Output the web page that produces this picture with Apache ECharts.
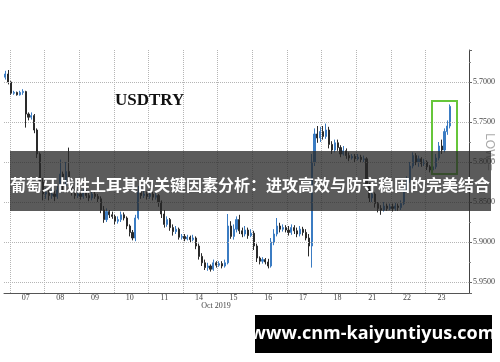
<!DOCTYPE html>
<html>
<head>
<meta charset="utf-8">
<script src="https://cdn.jsdelivr.net/npm/echarts@6/dist/echarts.min.js"></script>
<style>
html,body{margin:0;padding:0;background:#fff;}
#c{width:500px;height:362px;}
</style>
</head>
<body>
<div id="c"></div>
<script>
// ---- data ----
const days = ['04','07','08','09','10','11','14','15','16','17','18','21','22','23','24'];
const daySlots = [2,12,12,12,12,12,12,12,12,12,12,12,12,12,3];
const dayFirstHour = [20,0,0,0,0,0,0,0,0,0,0,0,0,0,0];
const labeledDays = ['07','08','09','10','11','14','15','16','17','18','21','22','23'];
const yTicks = [5.70,5.75,5.80,5.85,5.90,5.95];
const lastPrice = 5.7305;
// 2-hour bars: [open, close, low, high]
const ohlc = [
 [5.694,5.690,5.686,5.697],[5.690,5.700,5.685,5.703],
 // Oct 7
 [5.700,5.714,5.699,5.716],[5.714,5.713,5.711,5.716],[5.713,5.716,5.712,5.717],[5.716,5.713,5.711,5.717],
 [5.713,5.712,5.709,5.716],[5.712,5.740,5.711,5.757],[5.740,5.744,5.738,5.748],[5.744,5.742,5.738,5.747],
 [5.742,5.760,5.740,5.764],[5.760,5.790,5.758,5.795],[5.790,5.825,5.788,5.832],[5.825,5.840,5.820,5.848],
 // Oct 8
 [5.840,5.838,5.832,5.846],[5.838,5.842,5.835,5.848],[5.842,5.840,5.834,5.846],[5.840,5.843,5.836,5.849],
 [5.843,5.835,5.830,5.846],[5.835,5.815,5.797,5.838],[5.815,5.830,5.812,5.836],[5.830,5.812,5.800,5.834],
 [5.812,5.825,5.782,5.830],[5.825,5.838,5.822,5.842],[5.838,5.842,5.834,5.846],[5.842,5.840,5.836,5.845],
 // Oct 9
 [5.840,5.843,5.836,5.847],[5.843,5.838,5.834,5.846],[5.838,5.842,5.835,5.845],[5.842,5.845,5.838,5.849],
 [5.845,5.840,5.836,5.848],[5.840,5.843,5.837,5.846],[5.843,5.846,5.840,5.850],[5.846,5.860,5.843,5.864],
 [5.860,5.872,5.855,5.876],[5.872,5.862,5.858,5.875],[5.862,5.866,5.860,5.870],[5.866,5.868,5.862,5.871],
 // Oct 10
 [5.868,5.874,5.866,5.878],[5.874,5.872,5.868,5.877],[5.872,5.866,5.862,5.875],[5.866,5.870,5.863,5.873],
 [5.870,5.880,5.868,5.884],[5.880,5.888,5.878,5.893],[5.888,5.895,5.885,5.898],[5.895,5.870,5.866,5.899],
 [5.870,5.838,5.830,5.872],[5.838,5.842,5.834,5.846],[5.842,5.840,5.836,5.845],[5.840,5.843,5.837,5.847],
 // Oct 11
 [5.843,5.840,5.836,5.846],[5.840,5.844,5.837,5.848],[5.844,5.842,5.838,5.847],[5.842,5.850,5.840,5.856],
 [5.850,5.865,5.848,5.870],[5.865,5.878,5.860,5.882],[5.878,5.872,5.868,5.881],[5.872,5.882,5.870,5.886],
 [5.882,5.887,5.878,5.892],[5.887,5.884,5.880,5.890],[5.884,5.894,5.882,5.897],[5.894,5.893,5.890,5.897],
 // Oct 14
 [5.893,5.896,5.890,5.899],[5.896,5.894,5.891,5.898],[5.894,5.897,5.892,5.900],[5.897,5.895,5.891,5.899],
 [5.895,5.905,5.893,5.909],[5.905,5.918,5.902,5.922],[5.918,5.926,5.914,5.930],[5.926,5.932,5.922,5.935],
 [5.932,5.930,5.926,5.936],[5.930,5.934,5.928,5.937],[5.934,5.926,5.922,5.936],[5.926,5.929,5.924,5.932],
 // Oct 15
 [5.929,5.927,5.924,5.931],[5.927,5.930,5.924,5.933],[5.930,5.926,5.922,5.932],[5.926,5.880,5.865,5.928],
 [5.880,5.893,5.874,5.896],[5.893,5.884,5.878,5.897],[5.884,5.872,5.868,5.888],[5.872,5.886,5.866,5.890],
 [5.886,5.890,5.882,5.894],[5.890,5.885,5.880,5.893],[5.885,5.892,5.882,5.896],[5.892,5.889,5.884,5.894],
 // Oct 16
 [5.889,5.905,5.886,5.910],[5.905,5.920,5.902,5.925],[5.920,5.924,5.918,5.928],[5.924,5.922,5.919,5.927],
 [5.922,5.925,5.920,5.928],[5.925,5.930,5.921,5.933],[5.930,5.900,5.895,5.932],[5.900,5.890,5.884,5.904],
 [5.890,5.880,5.870,5.893],[5.880,5.884,5.876,5.888],[5.884,5.882,5.878,5.887],[5.882,5.885,5.879,5.888],
 // Oct 17
 [5.885,5.888,5.880,5.892],[5.888,5.882,5.878,5.891],[5.882,5.886,5.879,5.890],[5.886,5.890,5.882,5.894],
 [5.890,5.884,5.880,5.893],[5.884,5.888,5.881,5.892],[5.888,5.895,5.884,5.898],[5.895,5.905,5.890,5.918],
 [5.905,5.800,5.790,5.932],[5.800,5.765,5.758,5.805],[5.765,5.770,5.755,5.776],[5.770,5.762,5.756,5.775],
 // Oct 18
 [5.762,5.768,5.755,5.772],[5.768,5.760,5.752,5.771],[5.760,5.778,5.756,5.783],[5.778,5.785,5.774,5.790],
 [5.785,5.776,5.772,5.788],[5.776,5.782,5.772,5.786],[5.782,5.790,5.779,5.794],[5.790,5.786,5.780,5.792],
 [5.786,5.792,5.783,5.796],[5.792,5.795,5.788,5.799],[5.795,5.793,5.790,5.797],[5.793,5.796,5.790,5.800],
 // Oct 21
 [5.796,5.794,5.790,5.798],[5.794,5.797,5.791,5.800],[5.797,5.796,5.792,5.800],[5.796,5.830,5.794,5.836],
 [5.830,5.845,5.826,5.850],[5.845,5.840,5.835,5.850],[5.840,5.852,5.838,5.857],[5.852,5.858,5.850,5.863],
 [5.858,5.860,5.854,5.866],[5.860,5.855,5.850,5.862],[5.855,5.858,5.852,5.861],[5.858,5.856,5.852,5.860],
 // Oct 22
 [5.856,5.858,5.852,5.862],[5.858,5.855,5.851,5.861],[5.855,5.857,5.852,5.861],[5.857,5.852,5.848,5.860],
 [5.852,5.835,5.830,5.854],[5.835,5.822,5.818,5.838],[5.822,5.805,5.800,5.826],[5.805,5.792,5.788,5.808],
 [5.792,5.800,5.789,5.804],[5.800,5.796,5.792,5.806],[5.796,5.802,5.794,5.806],[5.802,5.800,5.796,5.805],
 // Oct 23
 [5.800,5.806,5.798,5.810],[5.806,5.810,5.804,5.813],[5.810,5.806,5.802,5.813],[5.806,5.795,5.790,5.809],
 [5.795,5.780,5.775,5.798],[5.780,5.785,5.772,5.790],[5.785,5.762,5.758,5.788],[5.762,5.755,5.748,5.766],
 [5.755,5.7305,5.728,5.758]
];

// ---- build categories ----
const categories = [];
days.forEach((d, k) => {
  for (let s = 0; s < daySlots[k]; s++) {
    const h = dayFirstHour[k] + s * 2;
    categories.push(d + ' ' + String(h).padStart(2, '0') + ':00');
  }
});

const chart = echarts.init(document.getElementById('c'), null, {renderer: 'canvas'});
const serifFont = 'Liberation Serif';

chart.setOption({
  animation: false,
  backgroundColor: '#ffffff',
  grid: {left: 4, right: 31, top: 50, bottom: 69, containLabel: false},
  xAxis: {
    type: 'category',
    data: categories,
    boundaryGap: true,
    axisLine: {show: true, lineStyle: {color: '#555', width: 1}},
    axisTick: {show: false},
    axisLabel: {
      interval: (i, v) => v.slice(3) === '10:00' && labeledDays.includes(v.slice(0, 2)),
      formatter: v => v.slice(0, 2),
      fontFamily: serifFont, fontSize: 8, color: '#444', margin: 1
    },
    splitLine: {
      show: true,
      interval: (i, v) => v.slice(3) === '00:00' && v.slice(0, 2) !== '24',
      lineStyle: {color: '#b5b5b5', type: 'dotted', width: 1}
    }
  },
  yAxis: {
    type: 'value',
    inverse: true,
    position: 'right',
    min: 5.66,
    max: 5.96375,
    splitNumber: 6,
    scale: true,
    axisLine: {show: true, lineStyle: {color: '#444', width: 1}},
    axisTick: {show: true, length: 3, lineStyle: {color: '#666'}},
    minorTick: {show: true, splitNumber: 2, length: 2, lineStyle: {color: '#888'}},
    axisLabel: {
      formatter: v => yTicks.some(t => Math.abs(t - v) < 1e-6) ? v.toFixed(4) : '',
      fontFamily: serifFont, fontSize: 8, color: '#444', margin: 4
    },
    splitLine: {show: false}
  },
  series: [{
    type: 'candlestick',
    data: ohlc.map(r => [r[0], r[1], r[2], r[3]]),
    barWidth: 1.6,
    itemStyle: {
      color: '#2a2a2a', color0: '#3b7cc3',
      borderColor: '#2a2a2a', borderColor0: '#3b7cc3', borderWidth: 1
    },
    markLine: {
      silent: true,
      symbol: ['none', 'none'],
      animation: false,
      data: yTicks.map(v => ({
        yAxis: v,
        lineStyle: {color: '#b5b5b5', type: 'dotted', width: 1},
        label: {show: false}
      })).concat([{
        yAxis: lastPrice,
        lineStyle: {opacity: 0, width: 0},
        label: {
          show: true, position: 'end', distance: 3,
          formatter: lastPrice.toFixed(4),
          backgroundColor: '#1c1c1c', color: '#fff',
          fontFamily: serifFont, fontSize: 8, fontWeight: 'bold',
          padding: [2, 2, 1, 2]
        }
      }])
    },
    z: 3
  }],
  graphic: [
    {type: 'text', left: 115, top: 92, z: 10,
     style: {text: 'USDTRY', font: 'bold 17px "Liberation Serif"', fill: '#111'}},
    {type: 'rect', z: 10, shape: {x: 432, y: 101, width: 25, height: 73},
     style: {fill: 'none', stroke: '#66c63a', lineWidth: 2}},
    {type: 'text', z: 10, x: 489, y: 152, rotation: -Math.PI / 2,
     style: {text: 'LOW =', font: '12px "Liberation Sans"', fill: '#aaaaaa', textAlign: 'center', textVerticalAlign: 'middle'}},
    {type: 'text', z: 10, x: 216, y: 306,
     style: {text: 'Oct 2019', font: '8px "Liberation Serif"', fill: '#444', textAlign: 'center', textVerticalAlign: 'middle'}},
    {type: 'rect', z: 20, shape: {x: 10, y: 151, width: 481, height: 60},
     style: {fill: 'rgba(40,40,40,0.76)'}},
    {type: 'text', z: 21, x: 250, y: 185,
     style: {text: '葡萄牙战胜土耳其的关键因素分析：进攻高效与防守稳固的完美结合',
             font: 'bold 16px "Noto Sans CJK SC"', fill: '#ffffff', textAlign: 'center', textVerticalAlign: 'middle'}},
    {type: 'rect', z: 20, shape: {x: 255, y: 315, width: 237, height: 38},
     style: {fill: '#000000'}},
    {type: 'text', z: 21, x: 373, y: 334,
     style: {text: 'www.cnm-kaiyuntiyus.com', font: 'bold 18px "Open Sans"', fill: '#ffffff', textAlign: 'center', textVerticalAlign: 'middle'}}
  ]
});
</script>
</body>
</html>
